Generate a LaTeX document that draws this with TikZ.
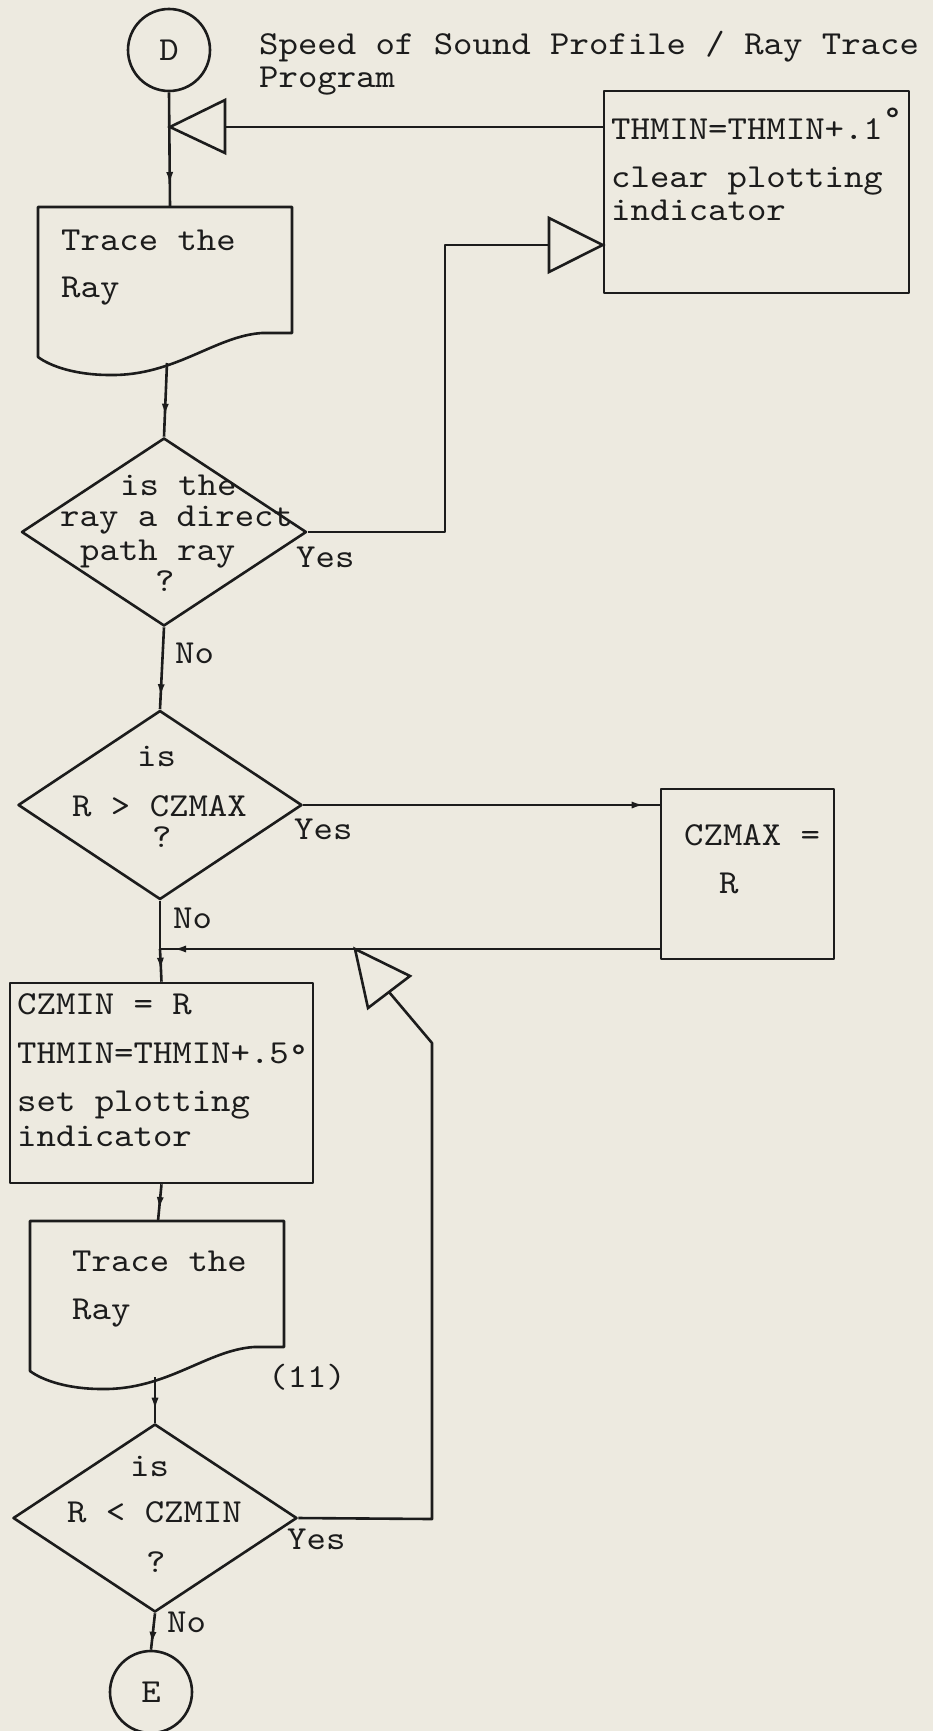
\documentclass[tikz,border=0pt]{standalone}
\usepackage{fontspec}
\usetikzlibrary{shapes.geometric,arrows.meta,decorations.markings}
\definecolor{paper}{RGB}{237,234,224}
\definecolor{ink}{RGB}{28,28,28}
% wide typewriter face
\newfontfamily\twfont{lmmono10-regular.otf}[FakeStretch=1.1]

\begin{document}
\begin{tikzpicture}[x=1pt,y=-1pt,
  tw/.style={font=\fontsize{33.6}{36}\selectfont\twfont,text=ink},
  txt/.style={tw,inner sep=0pt,anchor=base west},
  line/.style={draw=ink,line width=2.6pt,line join=round},
  box/.style={line,rectangle,inner sep=0pt},
  dia/.style={line,diamond,inner sep=0pt},
  term/.style={line,circle,minimum size=82pt,inner sep=0pt,tw},
  hollow/.style={line,fill=paper,line join=miter},
  arrowat/.style={postaction={decorate,decoration={markings,
      mark=at position -#1 with {\arrow{Latex[length=13pt,width=7pt]}}}}},
  docbox/.pic={
    \draw[line] (0,0) -- (254,0) -- (254,126) -- (224,126)
      .. controls (177,129) and (137,169) .. (72,168)
      .. controls (37,168) and (12,159) .. (0,150) -- cycle;
  }
]
% paper and page size
\fill[paper] (0,0) rectangle (933,1731);
\useasboundingbox (0,0) rectangle (933,1731);

% ---------- shapes ----------
\node[term] (D) at (169,50) {D};
\node[term] (E) at (151,1692) {E};

\pic at (38,207) {docbox};
\coordinate (t1in) at (170,207);
\coordinate (t1out) at (167,363);

\node[box,minimum width=305pt,minimum height=202pt] (thmin) at (756.5,192) {};

\node[dia,minimum width=285pt,minimum height=188pt] (d1) at (164,532) {};
\node[dia,minimum width=284pt,minimum height=189pt] (d2) at (160,805) {};

\node[box,minimum width=173pt,minimum height=170pt] (czmax) at (747.5,874) {};
\node[box,minimum width=303pt,minimum height=200pt] (czmin) at (161.5,1083) {};

\pic at (30,1221) {docbox};
\coordinate (t2in) at (158,1221);
\coordinate (t2out) at (155,1377);

\node[dia,minimum width=284pt,minimum height=188pt] (d3) at (155,1518) {};

% ---------- texts ----------
\node[txt] (title1) at (259,55) {Speed of Sound Profile / Ray Trace};
\node[txt] (title2) at (259,88) {Program};

\node[txt] (th1) at (611,140) {THMIN=THMIN+.1\raisebox{11pt}{°}};
\node[txt] (th2) at (611,188) {clear plotting};
\node[txt] (th3) at (611,220) {indicator};

\node[txt] (tr1a) at (61,250) {Trace the};
\node[txt] (tr1b) at (61,297) {Ray};

\node[txt] (d1a) at (120,495) {is the};
\node[txt] (d1b) at (60,526) {ray a direct};
\node[txt] (d1c) at (80,560) {path ray};
\node[txt] (d1d) at (155,591) {?};
\node[txt] (y1) at (296,567) {Yes};
\node[txt] (n1) at (175,663) {No};

\node[txt] (d2a) at (137,766) {is};
\node[txt] (d2b) at (72,816) {R > CZMAX};
\node[txt] (d2c) at (152,847) {?};
\node[txt] (y2) at (294,839) {Yes};
\node[txt] (n2) at (173,928) {No};

\node[txt] (cma) at (684,845) {CZMAX =};
\node[txt] (cmb) at (719,893) {R};

\node[txt] (cz1) at (17,1014) {CZMIN = R};
\node[txt] (cz2) at (17,1063) {THMIN=THMIN+.5\raisebox{-2pt}{°}};
\node[txt] (cz3) at (17,1111) {set plotting};
\node[txt] (cz4) at (17,1146) {indicator};

\node[txt] (tr2a) at (72,1271) {Trace the};
\node[txt] (tr2b) at (72,1319) {Ray};
\node[txt] (lbl11) at (268,1387) {(11)};

\node[txt] (d3a) at (130,1476) {is};
\node[txt] (d3b) at (67,1522) {R < CZMIN};
\node[txt] (d3c) at (146,1572) {?};
\node[txt] (y3) at (287,1549) {Yes};
\node[txt] (n3) at (167,1632) {No};

% ---------- main flow ----------
\draw[line,arrowat=22pt] (D.south) -- (t1in);
\draw[line,arrowat=20pt] (t1out) -- (d1.north);
\draw[line,arrowat=12pt] (d1.south) -- (d2.north);
\coordinate (j2) at (160,949);
\draw[line] (d2.south) -- (j2);
\draw[line,arrowat=11pt] (j2) -- (czmin.north);
\draw[line,arrowat=11pt] (czmin.south) -- (t2in);
\draw[line,arrowat=12pt] (t2out) -- (d3.north);
\draw[line,arrowat=5pt] (d3.south) -- (E.north);

% yes branch of the second test
\draw[line,arrowat=15pt] (d2.east) -- (d2.east -| czmax.west);
\draw[line,arrowat=13pt] (j2 -| czmax.west) -- (j2);

% return from the first box to the top of the loop
\coordinate (tip1) at (170,127);
\coordinate (base1) at (225,127);
\draw[line] (tip1 -| thmin.west) -- (base1);
\draw[hollow] (225,100) -- (tip1) -- (225,153) -- cycle;

% yes branch of the direct path test
\coordinate (c1) at (445,532);
\coordinate (c2) at (445,245);
\coordinate (base2) at (549,245);
\draw[line] (d1.east) -- (c1) -- (c2) -- (base2);
\draw[hollow] (549,218) -- (base2 -| thmin.west) -- (549,272) -- cycle;

% yes branch of the last test back into the loop
\coordinate (c3) at (432,1519);
\coordinate (c4) at (432,1043);
\coordinate (base3) at (389,992);
\draw[line] (d3.east) -- (c3) -- (c4) -- (base3);
\draw[hollow] (410,976) -- (355,949) -- (368,1008) -- cycle;
\end{tikzpicture}
\end{document}
